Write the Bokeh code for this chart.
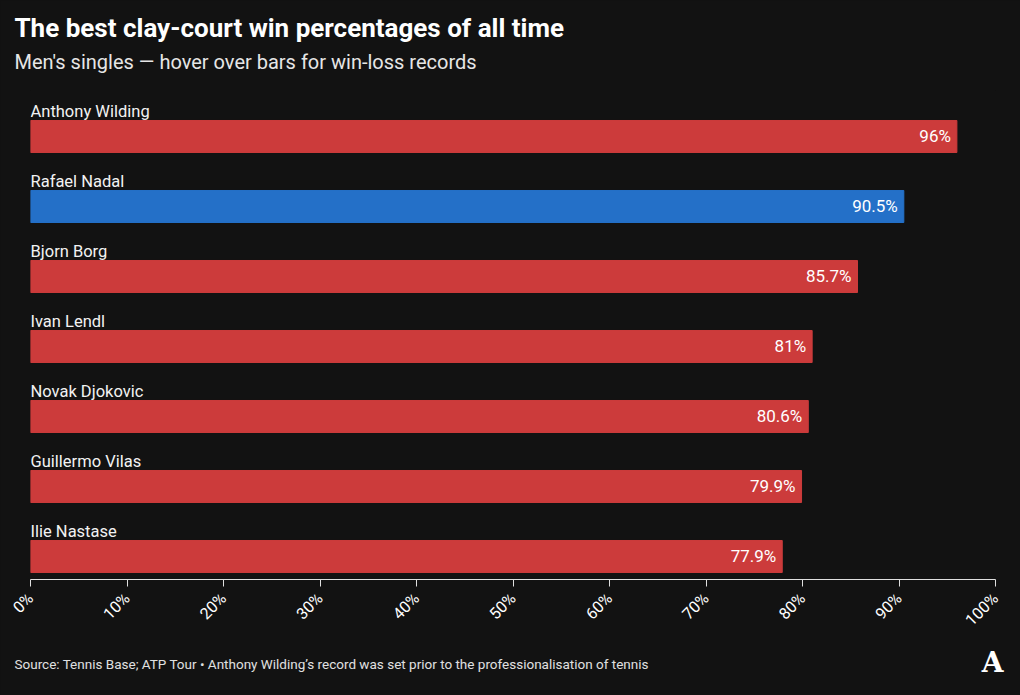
import math
from bokeh.plotting import figure
from bokeh.models import (Range1d, Title, FixedTicker, PrintfTickFormatter,
                          ColumnDataSource, GlobalInlineStyleSheet)
from bokeh.core.properties import value
from bokeh.embed import file_html
from bokeh.resources import INLINE

players = ["Anthony Wilding", "Rafael Nadal", "Bjorn Borg", "Ivan Lendl",
           "Novak Djokovic", "Guillermo Vilas", "Ilie Nastase"]
win_pct = [96, 90.5, 85.7, 81, 80.6, 79.9, 77.9]
pct_labels = ["96%", "90.5%", "85.7%", "81%", "80.6%", "79.9%", "77.9%"]
highlight = "Rafael Nadal"
x_ticks = [0, 10, 20, 30, 40, 50, 60, 70, 80, 90, 100]

BG = "#121212"
RED = "#cc3b3b"
BLUE = "#2470c8"

ypos = [-i for i in range(len(players))]
colors = [BLUE if n == highlight else RED for n in players]
src = ColumnDataSource(dict(y=ypos, v=win_pct, name=players, lab=pct_labels, c=colors))

p = figure(width=1020, height=695, output_backend="svg", toolbar_location=None,
           x_range=Range1d(0, 100), y_range=Range1d(-6.3286, 0.657),
           y_axis_location=None, min_border_left=30, min_border_right=25,
           min_border_top=90, min_border_bottom=116,
           background_fill_color=BG, border_fill_color=BG, outline_line_color=None)
p.stylesheets = [GlobalInlineStyleSheet(css="body{background:%s;}" % BG)]
p.grid.visible = False

p.hbar(y="y", left=0, right="v", height=32 / 70, color="c", source=src)

p.text(x=0, y="y", text="name", y_offset=-25, text_baseline="alphabetic",
       text_align="left", text_color="#f2f2f2", text_font=value("Roboto"),
       text_font_size="16.5px", source=src)
p.text(x="v", y="y", text="lab", x_offset=-6, text_baseline="middle",
       text_align="right", text_color="#ffffff", text_font=value("Roboto"),
       text_font_size="17px", source=src)

ax = p.xaxis[0]
ax.ticker = FixedTicker(ticks=x_ticks)
ax.formatter = PrintfTickFormatter(format="%d%%")
ax.major_label_orientation = math.pi / 4
ax.major_tick_out = 7
ax.major_tick_in = 0
ax.minor_tick_line_color = None
ax.axis_line_color = "#e0e0e0"
ax.major_tick_line_color = "#e0e0e0"
ax.major_label_text_color = "#ffffff"
ax.major_label_text_font = "Roboto"
ax.major_label_text_font_size = "16px"
ax.major_label_standoff = 9

# titles above: first added is nearest to the plot
p.add_layout(Title(text="Men's singles \u2014 hover over bars for win-loss records",
                   text_font="Roboto", text_font_style="normal",
                   text_font_size="20px", text_color="#e6e6e6",
                   offset=-16, standoff=33), "above")
p.add_layout(Title(text="The best clay-court win percentages of all time",
                   text_font="Roboto", text_font_style="bold",
                   text_font_size="26px", text_color="#ffffff",
                   offset=-16, standoff=-23), "above")

# footer and logo below
p.add_layout(Title(text="Source: Tennis Base; ATP Tour \u2022 Anthony Wilding\u2019s record was set prior to the professionalisation of tennis",
                   text_font="Roboto", text_font_style="normal",
                   text_font_size="13.5px", text_color="#e0e0e0",
                   offset=-16, standoff=28), "below")
p.add_layout(Title(text="A", text_font="DejaVu Serif", text_font_style="bold",
                   text_font_size="28px", text_color="#ffffff", align="right",
                   vertical_align="top", offset=-8, standoff=-80), "below")

open("out.html", "w").write(file_html(p, INLINE))
